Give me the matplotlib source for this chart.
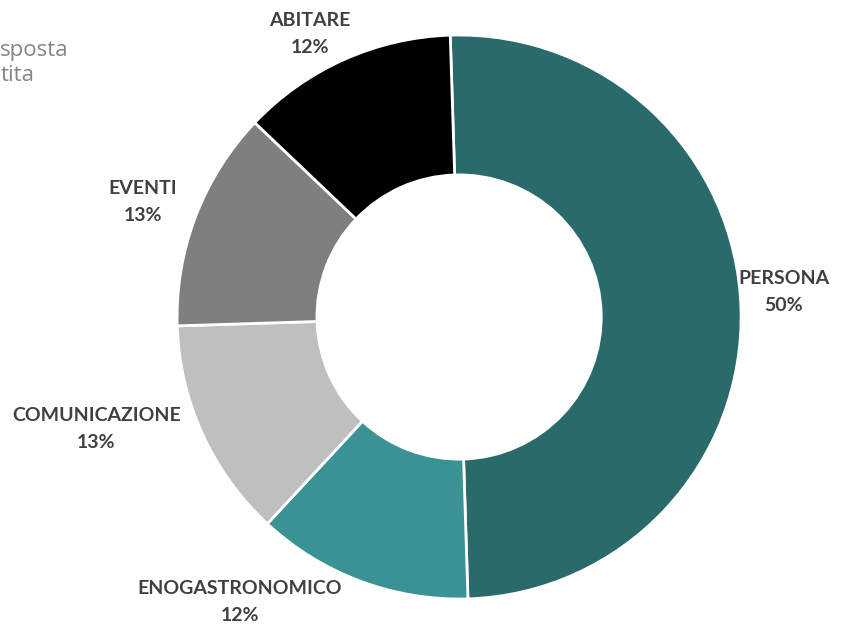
import matplotlib.pyplot as plt

categories = ['PERSONA', 'ENOGASTRONOMICO', 'COMUNICAZIONE', 'EVENTI', 'ABITARE']
shares = [50, 12.4, 12.6, 12.6, 12.4]
pct_labels = ['50%', '12%', '13%', '13%', '12%']
colors = ['#2a6a6b', '#3a9294', '#bfbfbf', '#7f7f7f', '#000000']

# label centres in data units (pie radius = 1)
label_pos = [(1.152, 0.089), (-0.777, -1.011), (-1.287, -0.397),
             (-1.121, 0.408), (-0.528, 1.004)]


def draw():
    fig = plt.figure(figsize=(8.46, 6.25), dpi=100)
    ax = fig.add_axes([0, 0, 1, 1])
    ax.pie(shares, colors=colors, startangle=91.8, counterclock=False,
           radius=1.0, wedgeprops=dict(width=0.496, edgecolor='white', linewidth=2))
    for (x, y), name, p in zip(label_pos, categories, pct_labels):
        ax.text(x, y, name + '\n' + p, ha='center', va='center',
                fontsize=14, fontweight='bold', family='Lato',
                color='#404040', linespacing=1.7)
    ax.text(-1.627, 0.9, 'sposta\ntita', ha='left', va='center',
            fontsize=16, family='Open Sans', color='#858585', linespacing=1.25)
    ax.set_xlim(-1.628, 1.372)
    ax.set_ylim(-1.092, 1.124)
    ax.axis('off')
    fig.savefig('out.png', dpi=100)


if __name__ == '__main__':
    draw()
